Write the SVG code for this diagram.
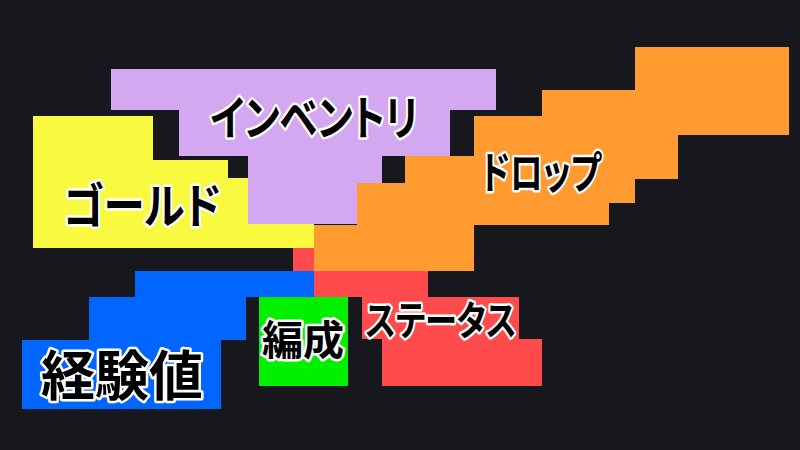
<svg xmlns="http://www.w3.org/2000/svg" width="800" height="450" viewBox="0 0 800 450">
<style>
.lbl{font-family:"Noto Sans CJK JP","Noto Sans",sans-serif;font-weight:700;fill:#000;stroke:#fff;stroke-width:5;stroke-linejoin:round;paint-order:stroke fill;text-anchor:middle;dominant-baseline:central;font-feature-settings:"palt" 1;}
</style>
<rect width="800" height="450" fill="#17181d"/>
<g id="gold">
<polygon fill="#f9f93f" points="33,116 153,116 153,160 228,160 228,178 248,178 248,224 314,224 314,248 33,248"/>
<text class="lbl" x="142" y="202" font-size="48" textLength="158" lengthAdjust="spacingAndGlyphs">ゴールド</text>
</g>
<g id="inventory">
<polygon fill="#d4a8f0" points="111,69 496,69 496,110 450,110 450,156 382,156 382,183 357,183 357,224 248,224 248,156 179,156 179,110 111,110"/>
<text class="lbl" x="314" y="114" font-size="47" textLength="208" lengthAdjust="spacingAndGlyphs">インベントリ</text>
</g>
<g id="drop">
<polygon fill="#ff9b30" points="635,47 789,47 789,135 678,135 678,179 635,179 635,203 609,203 609,225 474,225 474,271 314,271 314,225 357,225 357,183 405,183 405,156 474,156 474,116 542,116 542,90 635,90"/>
<text class="lbl" x="541" y="170" font-size="44" textLength="120" lengthAdjust="spacingAndGlyphs">ドロップ</text>
</g>
<g id="status">
<rect fill="#ff4b4b" x="293" y="248" width="21" height="23"/>
<polygon fill="#ff4b4b" points="314,271 428,271 428,297 519,297 519,339 542,339 542,386 382,386 382,339 362,339 362,297 314,297"/>
<text class="lbl" x="441" y="318" font-size="40" textLength="151" lengthAdjust="spacingAndGlyphs">ステータス</text>
</g>
<g id="exp">
<polygon fill="#0066ff" points="135,271 314,271 314,297 246,297 246,340 221,340 221,409 22,409 22,340 89,340 89,297 135,297"/>
<text class="lbl" x="122" y="372" font-size="54">経験値</text>
</g>
<g id="party">
<rect fill="#00f000" x="259" y="297" width="89" height="89"/>
<text class="lbl" x="303" y="337" font-size="41">編成</text>
</g>
<g id="connectors"></g>
</svg>
